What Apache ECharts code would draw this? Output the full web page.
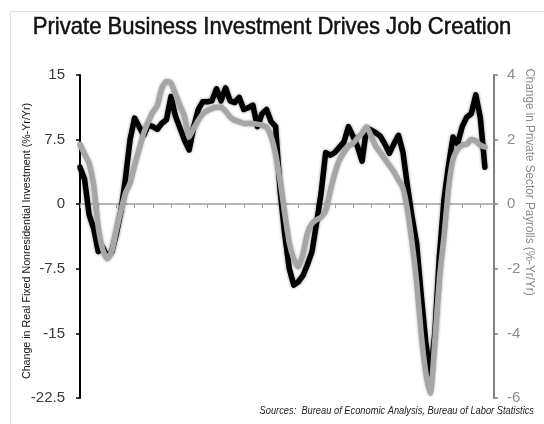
<!DOCTYPE html>
<html><head><meta charset="utf-8">
<script src="https://cdn.jsdelivr.net/npm/echarts@6/dist/echarts.min.js"></script>
<style>html,body{margin:0;padding:0;background:#fff}#c{width:544px;height:424px}</style>
</head><body><div id="c"></div>
<script>
// Quarterly, 1990Q1 .. 2012Q4
const quarters = [];
for (let y = 1990; y <= 2012; y++) for (let q = 1; q <= 4; q++) quarters.push(y + 'Q' + q);

// Real fixed nonresidential investment, % y/y (left axis)
const investment = [
  4.3, 2.9, -1.2, -2.8, -5.5, -5.0, -6.2, -5.5, -3.4, -0.8,
  3.0, 7.5, 10.0, 9.0, 8.0, 9.2, 9.0, 8.7, 9.4, 9.8,
  12.5, 10.2, 8.8, 7.4, 6.3, 9.0, 11.0, 11.9, 11.9, 12.0,
  13.4, 12.0, 13.5, 12.0, 11.8, 12.4, 11.0, 11.2, 11.5, 9.0,
  10.5, 11.0, 9.6, 9.0, 1.5, -3.5, -7.5, -9.4, -9.0, -8.3,
  -7.0, -5.5, -2.2, 1.3, 6.0, 5.7, 6.0, 6.6, 7.2, 9.0,
  7.9, 6.7, 5.0, 8.8, 8.6, 8.3, 7.9, 7.0, 5.9, 7.0,
  8.0, 6.0, 2.0, -1.5, -4.6, -10.5, -16.0, -20.0, -15.0, -6.0,
  0.5, 4.5, 7.8, 7.0, 9.0, 10.1, 10.5, 12.7, 10.0, 4.3,
  null, null
];

// Private sector payrolls, % y/y (right axis)
const payrolls = [
  1.85, 1.55, 1.26, 0.6, -0.7, -1.4, -1.68, -1.45, -0.8, -0.2,
  0.35, 0.65, 1.2, 1.7, 2.2, 2.55, 2.85, 3.05, 3.6, 3.8,
  3.75, 3.4, 3.05, 2.7, 2.08, 2.35, 2.6, 2.8, 2.9, 2.96,
  3.0, 3.0, 2.88, 2.7, 2.6, 2.55, 2.5, 2.5, 2.5, 2.48,
  2.45, 2.38, 2.1, 1.55, 0.7, -0.3, -1.2, -1.7, -1.94, -1.55,
  -0.9, -0.6, -0.48, -0.4, -0.2, 0.4, 0.95, 1.36, 1.6, 1.8,
  1.88, 2.05, 2.2, 2.39, 2.1, 1.8, 1.6, 1.4, 1.2, 1.0,
  0.75, 0.5, -0.19, -1.2, -2.4, -4.0, -5.2, -5.85, -4.2, -2.3,
  -1.0, 0.5, 1.4, 1.7, 1.83, 1.86, 2.0, 1.95, 1.83, 1.77,
  null, null
];

const leftTicks = { min: -22.5, max: 15, interval: 7.5 };
const rightTicks = { min: -6, max: 4, interval: 2 };

const titleText = 'Private Business Investment Drives Job Creation';
const leftName = 'Change in Real Fixed Nonresidential Investment (%-Yr/Yr)';
const rightName = 'Change in Private Sector Payrolls (%-Yr/Yr)';
const sourceText = 'Sources:  Bureau of Economic Analysis, Bureau of Labor Statistics';

const sans = '"Liberation Sans", Arial, sans-serif';
const chart = echarts.init(document.getElementById('c'), null, { renderer: 'canvas' });
chart.setOption({
  animation: false,
  backgroundColor: '#fff',
  grid: { left: 80, right: 50, top: 75, bottom: 26, containLabel: false },
  xAxis: {
    type: 'category', data: quarters, boundaryGap: false,
    axisLine: { onZero: true, lineStyle: { color: '#a0a0a0', width: 1.5 } },
    axisTick: { show: true, interval: 3, length: 4, inside: false, lineStyle: { color: '#a0a0a0', width: 1 } },
    axisLabel: { show: false },
    splitLine: { show: false }
  },
  yAxis: [
    {
      type: 'value', min: leftTicks.min, max: leftTicks.max, interval: leftTicks.interval,
      position: 'left',
      axisLine: { show: true, onZero: false, lineStyle: { color: '#000', width: 2 } },
      axisTick: { show: true, length: 4, lineStyle: { color: '#000', width: 1.5 } },
      axisLabel: { color: '#3a3a3a', fontSize: 15, margin: 15, fontFamily: sans },
      splitLine: { show: false }
    },
    {
      type: 'value', min: rightTicks.min, max: rightTicks.max, interval: rightTicks.interval,
      position: 'right',
      axisLine: { show: true, onZero: false, lineStyle: { color: '#808080', width: 2 } },
      axisTick: { show: true, length: 4, lineStyle: { color: '#808080', width: 1.5 } },
      axisLabel: { color: '#8c8c8c', fontSize: 15, margin: 13, fontFamily: sans },
      splitLine: { show: false }
    }
  ],
  series: [
    {
      name: 'Investment', type: 'line', yAxisIndex: 0, data: investment,
      showSymbol: false, symbol: 'none', connectNulls: false,
      lineStyle: { color: '#000', width: 5.5, shadowBlur: 3, shadowColor: 'rgba(0,0,0,0.45)', cap: 'round', join: 'round' },
      z: 2
    },
    {
      name: 'Payrolls', type: 'line', yAxisIndex: 1, data: payrolls,
      showSymbol: false, symbol: 'none', smooth: 0.2,
      lineStyle: { color: '#a6a6a6', width: 5.5, shadowBlur: 3, shadowColor: 'rgba(0,0,0,0.3)', cap: 'round', join: 'round' },
      z: 3
    }
  ],
  graphic: [
    { type: 'rect', shape: { x: 10.5, y: 11.5, width: 560, height: 440 }, style: { fill: 'none', stroke: '#e2e2e2', lineWidth: 1 }, silent: true, z: -1 },
    { type: 'text', x: 272, y: 27, scaleX: 0.92,
      style: { text: titleText, fontSize: 24, fontFamily: sans, fill: '#111', stroke: '#111', lineWidth: 0.5, align: 'center', verticalAlign: 'middle' } },
    { type: 'text', x: 27, y: 241, rotation: Math.PI / 2, scaleX: 0.927,
      style: { text: leftName, fontSize: 11.5, fontFamily: sans, fill: '#111', align: 'center', verticalAlign: 'middle' } },
    { type: 'text', x: 529, y: 182, rotation: -Math.PI / 2, scaleX: 0.937,
      style: { text: rightName, fontSize: 12.5, fontFamily: sans, fill: '#8a8a8a', align: 'center', verticalAlign: 'middle' } },
    { type: 'text', x: 534, y: 411, scaleX: 0.93,
      style: { text: sourceText, fontSize: 10, fontStyle: 'italic', fontFamily: sans, fill: '#222', align: 'right', verticalAlign: 'middle' } }
  ]
});
</script></body></html>
